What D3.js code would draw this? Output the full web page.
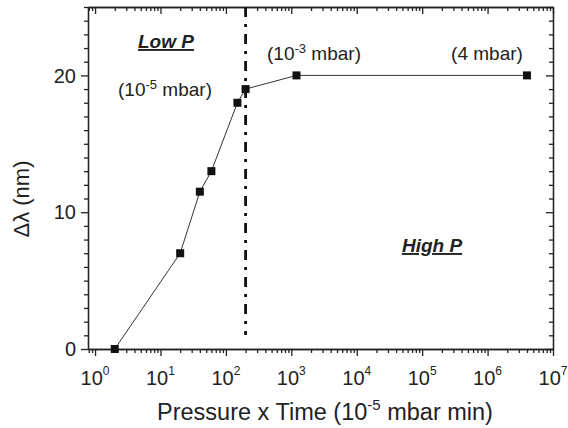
<!DOCTYPE html>
<html lang="en">
<head>
<meta charset="utf-8">
<title>Delta lambda vs pressure x time</title>
<script src="https://cdn.jsdelivr.net/npm/d3@7/dist/d3.min.js"></script>
<style>
  body { margin: 0; background: #fff; }
  svg text { font-family: "Liberation Sans", Arial, sans-serif; fill: #222; }
  .axis path, .axis line { stroke: #222; stroke-width: 1.3; }
</style>
</head>
<body>
<script>
// data
var pressureTime = [2, 20, 40, 60, 150, 200, 1200, 4e6];
var deltaLambda  = [0, 7, 11.5, 13, 18, 19, 20, 20];
var xExponents   = [0, 1, 2, 3, 4, 5, 6, 7];
var yMajorTicks  = [0, 10, 20];
var boundaryX    = 200;

var w = 568, h = 428;
var padL = 88, padR = 553, padT = 7, padB = 349;

var svg = d3.select("body").append("svg")
    .attr("width", w).attr("height", h);

var x = d3.scaleLog().domain([0.78, 1e7]).range([padL, padR]);
var y = d3.scaleLinear().domain([0, 25]).range([padB, padT]);

var xMajor = xExponents.map(function(e){ return Math.pow(10, e); });
var xMinor = [];
for (var e = -1; e < 7; e++) {
    for (var k = 2; k <= 9; k++) {
        var v = k * Math.pow(10, e);
        if (v >= 0.78 && v <= 1e7) xMinor.push(v);
    }
}
var yMinor = d3.range(0, 26, 1).filter(function(v){ return v % 10 != 0; });

function axisGroup(axis, tx, ty) {
    return svg.append("g").attr("class", "axis")
        .attr("transform", "translate(" + tx + "," + ty + ")")
        .call(axis);
}

// bottom
axisGroup(d3.axisBottom(x).tickValues(xMinor).tickSize(4).tickSizeOuter(0).tickFormat(""), 0, padB);
axisGroup(d3.axisBottom(x).tickValues(xMajor).tickSize(7).tickSizeOuter(0).tickFormat(""), 0, padB);
// top (ticks inward)
axisGroup(d3.axisTop(x).tickValues(xMinor).tickSize(-4).tickSizeOuter(0).tickFormat(""), 0, padT);
axisGroup(d3.axisTop(x).tickValues(xMajor).tickSize(-7).tickSizeOuter(0).tickFormat(""), 0, padT);
// left
axisGroup(d3.axisLeft(y).tickValues(yMinor).tickSize(4).tickSizeOuter(0).tickFormat(""), padL, 0);
axisGroup(d3.axisLeft(y).tickValues(yMajorTicks).tickSize(7).tickSizeOuter(0).tickFormat(""), padL, 0);
// right (ticks inward)
axisGroup(d3.axisRight(y).tickValues(yMinor).tickSize(-4).tickSizeOuter(0).tickFormat(""), padR, 0);
axisGroup(d3.axisRight(y).tickValues(yMajorTicks).tickSize(-7).tickSizeOuter(0).tickFormat(""), padR, 0);

// x tick labels 10^n
xExponents.forEach(function(e) {
    var t = svg.append("text")
        .attr("x", x(Math.pow(10, e)))
        .attr("y", 385)
        .attr("text-anchor", "middle")
        .style("font-size", "20px");
    t.append("tspan").text("10");
    t.append("tspan").attr("dy", -10).style("font-size", "12px").text(e);
});

// y tick labels
svg.selectAll(".ylab").data(yMajorTicks).enter().append("text")
    .attr("class", "ylab")
    .attr("x", 76)
    .attr("y", function(d){ return y(d); })
    .attr("dy", "0.36em")
    .attr("text-anchor", "end")
    .style("font-size", "20px")
    .text(function(d){ return d; });

// axis titles
var xt = svg.append("text")
    .attr("x", 325).attr("y", 420)
    .attr("text-anchor", "middle")
    .style("font-size", "23.5px");
xt.append("tspan").text("Pressure x Time (10");
xt.append("tspan").attr("dy", -10).style("font-size", "15px").text("-5");
xt.append("tspan").attr("dy", 10).text(" mbar min)");

svg.append("text")
    .attr("transform", "translate(29,199) rotate(-90)")
    .attr("text-anchor", "middle")
    .style("font-size", "22px")
    .text("\u0394\u03bb (nm)");

// boundary dash-dot line
svg.append("line")
    .attr("x1", x(boundaryX)).attr("x2", x(boundaryX))
    .attr("y1", padT).attr("y2", 335)
    .attr("stroke", "#111")
    .attr("stroke-width", 2.8)
    .attr("stroke-dasharray", "10,7,3,7");

// data line
var pts = pressureTime.map(function(d, i){ return [d, deltaLambda[i]]; });
svg.append("path")
    .datum(pts)
    .attr("fill", "none")
    .attr("stroke", "#333")
    .attr("stroke-width", 1)
    .attr("d", d3.line().x(function(d){ return x(d[0]); }).y(function(d){ return y(d[1]); }));

svg.selectAll(".pt").data(pts).enter().append("rect")
    .attr("class", "pt")
    .attr("x", function(d){ return x(d[0]) - 4; })
    .attr("y", function(d){ return y(d[1]) - 4; })
    .attr("width", 8).attr("height", 8)
    .attr("fill", "#111");

// annotations
function pressureNote(cx, by, base, exp, rest) {
    var t = svg.append("text")
        .attr("x", cx).attr("y", by)
        .attr("text-anchor", "middle")
        .style("font-size", "19px");
    t.append("tspan").text(base);
    if (exp) {
        t.append("tspan").attr("dy", -7).style("font-size", "13px").text(exp);
        t.append("tspan").attr("dy", 7).text(rest);
    }
    return t;
}
pressureNote(165, 96, "(10", "-5", " mbar)");
pressureNote(314, 60, "(10", "-3", " mbar)");
pressureNote(487, 60, "(4 mbar)");

function regionLabel(cx, by, txt) {
    svg.append("text")
        .attr("x", cx).attr("y", by)
        .attr("text-anchor", "middle")
        .style("font-size", "19px")
        .style("font-weight", "bold")
        .style("font-style", "italic")
        .style("text-decoration", "underline")
        .text(txt);
}
regionLabel(166, 48, "Low P");
regionLabel(432, 252, "High P");
</script>
</body>
</html>
